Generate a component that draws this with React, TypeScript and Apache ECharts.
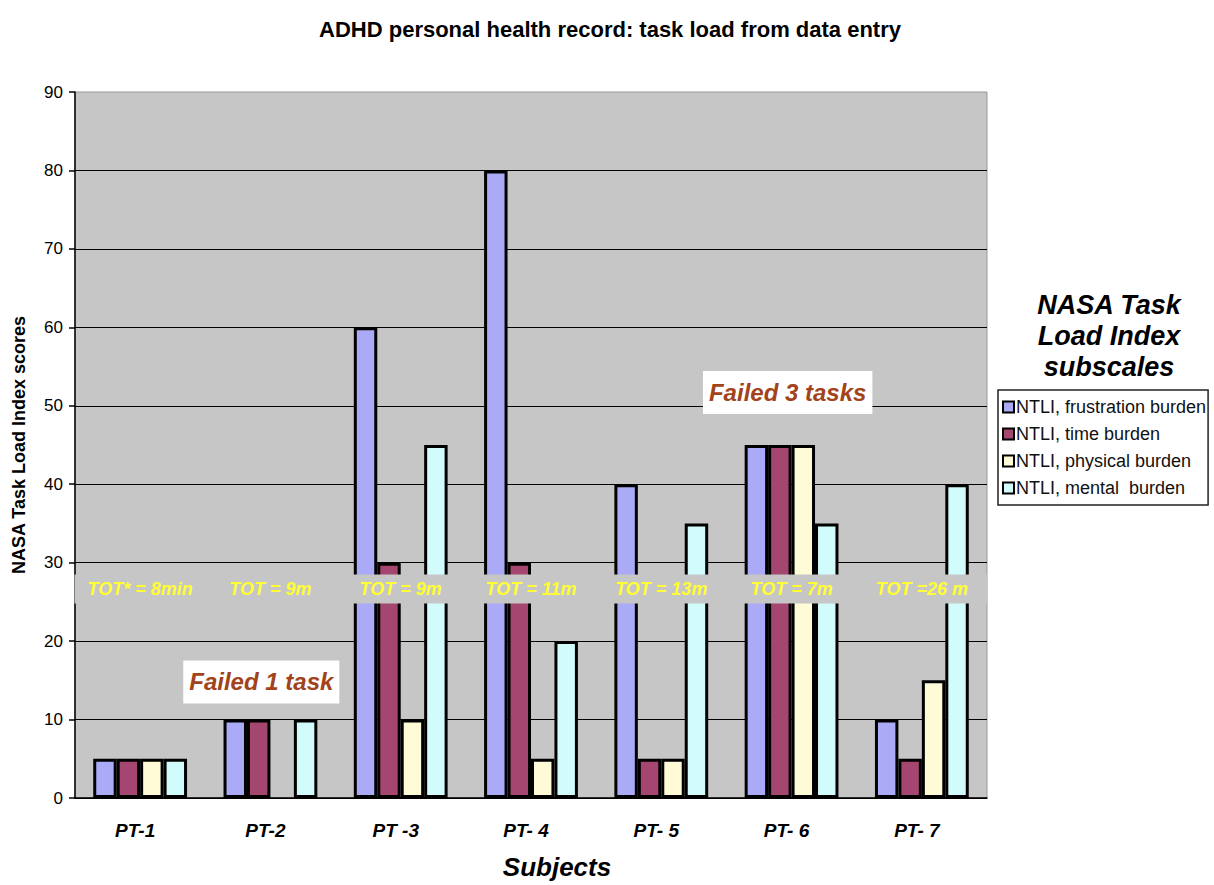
import React, { useEffect, useRef } from "react";
import * as echarts from "echarts";

const categories = ["PT-1", "PT-2", "PT -3", "PT- 4", "PT- 5", "PT- 6", "PT- 7"];
const frustration = [5, 10, 60, 80, 40, 45, 10];
const timeBurden = [5, 10, 30, 30, 5, 45, 5];
const physical = [5, 0, 10, 5, 5, 45, 15];
const mental = [5, 10, 45, 20, 35, 35, 40];
const seriesNames = [
  "NTLI, frustration burden",
  "NTLI, time burden",
  "NTLI, physical burden",
  "NTLI, mental  burden",
];
const seriesColors = ["#aaaaf6", "#a4466f", "#fffbd6", "#d2fcfc"];
const totLabels = ["TOT* = 8min", "TOT = 9m", "TOT = 9m", "TOT = 11m", "TOT = 13m", "TOT = 7m", "TOT =26 m"];
const bandTop = 28.5;
const bandBottom = 24.8;
const failedCats = [1, 5];
const failedY = [14.8, 51.7];
const failedText = ["Failed 1 task", "Failed 3 tasks"];
const failedShift = [-0.07, -0.03];
const yTicks = [0, 10, 20, 30, 40, 50, 60, 70, 80, 90];

const FONT = "'Liberation Sans', Arial, Helvetica, sans-serif";

export default function App() {
  const ref = useRef<HTMLDivElement>(null);
  useEffect(() => {
    if (!ref.current) return;
    const chart = echarts.init(ref.current, null, { renderer: "svg" });
    const allData = [frustration, timeBurden, physical, mental];
    const barSeries = allData.map((arr, i) => ({
      name: seriesNames[i],
      type: "bar",
      data: arr.map((v) => (v === 0 ? "-" : v)),
      barGap: "0%",
      barCategoryGap: "28%",
      itemStyle: { color: seriesColors[i], borderColor: "#000", borderWidth: 3 },
      z: 2,
    }));
    const option: any = {
      animation: false,
      backgroundColor: "#fff",
      textStyle: { fontFamily: FONT },
      title: [
        {
          text: "ADHD personal health record: task load from data entry",
          left: 605,
          textAlign: "center",
          top: 13,
          textStyle: { fontSize: 22, fontWeight: "bold", color: "#000", fontFamily: FONT },
        },
        {
          text: "NASA Task\nLoad Index\nsubscales",
          left: 1104,
          textAlign: "center",
          top: 284,
          textStyle: {
            fontSize: 27,
            fontWeight: "bold",
            fontStyle: "italic",
            color: "#000",
            lineHeight: 31,
            fontFamily: FONT,
          },
        },
      ],
      legend: {
        data: seriesNames,
        orient: "vertical",
        left: 998,
        top: 390,
        borderColor: "#222",
        borderWidth: 1.5,
        padding: [8, 2, 8, 4],
        itemGap: 9,
        itemWidth: 11,
        itemHeight: 11,
        icon: "rect",
        selectedMode: false,
        textStyle: { fontSize: 18, color: "#111", fontFamily: FONT, padding: [0, 0, 0, -3] },
      },
      grid: {
        left: 75,
        right: 227,
        top: 92,
        bottom: 85,
        show: true,
        backgroundColor: "#c6c6c6",
        borderColor: "#999",
        borderWidth: 1,
      },
      xAxis: {
        type: "category",
        data: categories,
        name: "Subjects",
        nameLocation: "middle",
        nameGap: 56,
        nameTextStyle: {
          fontSize: 26,
          fontWeight: "bold",
          fontStyle: "italic",
          color: "#000",
          fontFamily: FONT,
          padding: [0, 0, 0, 52],
        },
        axisLine: { show: true, lineStyle: { color: "#000", width: 1.5 } },
        axisTick: { show: false },
        axisLabel: {
          fontSize: 19,
          fontWeight: "bold",
          fontStyle: "italic",
          color: "#000",
          margin: 23,
          padding: [0, 10, 0, 0],
          fontFamily: FONT,
        },
      },
      yAxis: {
        type: "value",
        min: 0,
        max: 90,
        interval: 10,
        name: "NASA Task Load Index scores",
        nameLocation: "middle",
        nameGap: 47,
        nameTextStyle: { fontSize: 18, fontWeight: "bold", color: "#000", fontFamily: FONT },
        axisLine: { show: true, lineStyle: { color: "#000", width: 1.5 } },
        axisTick: { show: true, length: 6, lineStyle: { color: "#000", width: 1.5 } },
        axisLabel: { fontSize: 17, color: "#000", margin: 12, fontFamily: FONT },
        splitLine: {
          show: true,
          lineStyle: {
            color: yTicks.map((t) => (t === 90 ? "rgba(0,0,0,0)" : "#000")),
            width: 1.2,
          },
        },
      },
      series: [
        ...barSeries,
        {
          type: "custom",
          name: "tot",
          z: 10,
          silent: true,
          encode: { x: 0, y: [1, 2] },
          data: totLabels.map((t, i) => [i, bandTop, bandBottom, t]),
          renderItem: (params: any, api: any) => {
            const idx = api.value(0);
            const p1 = api.coord([idx, api.value(1)]);
            const p2 = api.coord([idx, api.value(2)]);
            const w = api.size([1, 0])[0];
            const label = totLabels[idx];
            return {
              type: "group",
              children: [
                {
                  type: "rect",
                  shape: { x: p1[0] - w / 2 - 0.5, y: p1[1], width: w + 1, height: p2[1] - p1[1] },
                  style: { fill: "#c6c6c6" },
                },
                {
                  type: "text",
                  x: p1[0],
                  y: (p1[1] + p2[1]) / 2,
                  style: {
                    text: label,
                    fill: "#ffff33",
                    font: `italic bold 18px ${FONT}`,
                    align: "center",
                    verticalAlign: "middle",
                  },
                },
              ],
            };
          },
        },
        {
          type: "custom",
          name: "failed",
          z: 11,
          silent: true,
          encode: { x: 0, y: 1 },
          data: failedCats.map((c, i) => [c, failedY[i], i]),
          renderItem: (params: any, api: any) => {
            const c = api.value(0);
            const k = api.value(2);
            const p = api.coord([c, api.value(1)]);
            const w = api.size([1, 0])[0];
            return {
              type: "text",
              x: p[0] + failedShift[k] * w,
              y: p[1],
              style: {
                text: failedText[k],
                fill: "#a2431b",
                font: `italic bold 24px ${FONT}`,
                align: "center",
                verticalAlign: "middle",
                backgroundColor: "#fff",
                padding: [10, 6, 9, 6],
              },
            };
          },
        },
      ],
    };
    chart.setOption(option);
    return () => chart.dispose();
  }, []);
  return (
    <div
      ref={ref}
      style={{ position: "absolute", left: 0, top: 0, width: 1214, height: 885, overflow: "hidden" }}
    />
  );
}
